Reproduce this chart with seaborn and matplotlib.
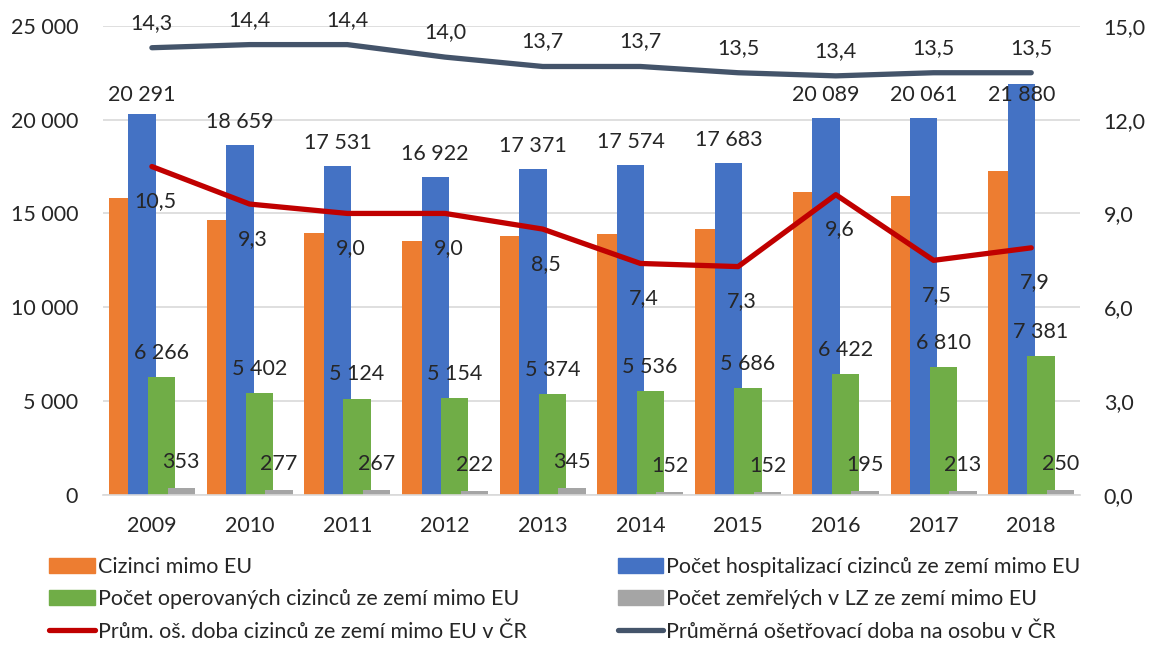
import matplotlib
import numpy as np
import pandas as pd
import seaborn as sns

matplotlib.use("Agg")
import matplotlib.pyplot as plt
from matplotlib.lines import Line2D
from matplotlib.patches import Patch


YEARS = ["2009", "2010", "2011", "2012", "2013", "2014", "2015", "2016", "2017", "2018"]
CIZINCI = [15800, 14650, 13950, 13550, 13800, 13900, 14150, 16150, 15950, 17250]
HOSPITALIZACE = [20291, 18659, 17531, 16922, 17371, 17574, 17683, 20089, 20061, 21880]
OPEROVANI = [6266, 5402, 5124, 5154, 5374, 5536, 5686, 6422, 6810, 7381]
ZEMRELI = [353, 277, 267, 222, 345, 152, 152, 195, 213, 250]
DOBA_CIZINCI = [10.5, 9.3, 9.0, 9.0, 8.5, 7.4, 7.3, 9.6, 7.5, 7.9]
DOBA_CR = [14.3, 14.4, 14.4, 14.0, 13.7, 13.7, 13.5, 13.4, 13.5, 13.5]

SERIES = [
    "Cizinci mimo EU",
    "Počet hospitalizací cizinců ze zemí mimo EU",
    "Počet operovaných cizinců ze zemí mimo EU",
    "Počet zemřelých v LZ ze zemí mimo EU",
]
LINE_NAMES = [
    "Prům. oš. doba cizinců ze zemí mimo EU v ČR",
    "Průměrná ošetřovací doba na osobu v ČR",
]
COLORS = ["#ED7D31", "#4472C4", "#70AD47", "#A5A5A5"]
RED = "#C00000"
DARK = "#44546A"
TEXT = "#262626"
FS = 15.5


def fmt_thousands(v: float) -> str:
    return f"{int(v):,}".replace(",", " ")


def fmt_dec(v: float) -> str:
    return f"{v:.1f}".replace(".", ",")


sns.set_theme(style="white")
plt.rcParams["font.family"] = ["Lato", "DejaVu Sans"]
plt.rcParams["text.color"] = TEXT

df = pd.DataFrame(
    {
        "rok": YEARS * 4,
        "serie": [s for s in SERIES for _ in YEARS],
        "hodnota": CIZINCI + HOSPITALIZACE + OPEROVANI + ZEMRELI,
    }
)

fig = plt.figure(figsize=(11.5, 6.46), dpi=100)
ax = fig.add_axes([0.0896, 0.234, 0.8496, 0.726])

sns.barplot(
    data=df, x="rok", y="hodnota", hue="serie", hue_order=SERIES,
    palette=COLORS, width=0.8, saturation=1, legend=False, ax=ax, errorbar=None,
)

# widen bars so they overlap like the Excel original
bar_w = 0.28
for patch in ax.patches:
    cx = patch.get_x() + patch.get_width() / 2
    patch.set_width(bar_w)
    patch.set_x(cx - bar_w / 2)
    patch.set_linewidth(0)

offsets = [-0.3, -0.1, 0.1, 0.3]
# label offset above the bar (data units) and highest allowed label position
label_series = [(1, HOSPITALIZACE, 1230, 21300), (2, OPEROVANI, 1300, 25000), (3, ZEMRELI, 1380, 25000)]
for k, values, dy, cap in label_series:
    for i, v in enumerate(values):
        ax.text(
            i + offsets[k], min(v + dy, cap), fmt_thousands(v),
            ha="center", va="center", fontsize=FS, color=TEXT, clip_on=False,
        )

ax.set_ylim(0, 25000)
ax.set_xlim(-0.5, 9.5)
ax.set_yticks(range(0, 25001, 5000))
ax.set_yticklabels([fmt_thousands(t) for t in range(0, 25001, 5000)])
ax.yaxis.grid(True, color="#D9D9D9", linewidth=1.2)
ax.set_axisbelow(True)
ax.set_xlabel("")
ax.set_ylabel("")
for side in ["top", "left", "right"]:
    ax.spines[side].set_visible(False)
ax.spines["bottom"].set_color("#D9D9D9")
ax.spines["bottom"].set_linewidth(1.2)
ax.tick_params(axis="x", length=0, pad=15, labelsize=FS, colors=TEXT)
ax.tick_params(axis="y", length=0, pad=18, labelsize=FS, colors=TEXT)

ax2 = ax.twinx()
xs = np.arange(len(YEARS))
sns.lineplot(x=xs, y=DOBA_CIZINCI, ax=ax2, color=RED, linewidth=3.8)
sns.lineplot(x=xs, y=DOBA_CR, ax=ax2, color=DARK, linewidth=3.8)
ax2.set_ylim(0, 15)
ax2.set_yticks(np.arange(0, 15.1, 3))
ax2.set_yticklabels([fmt_dec(t) for t in np.arange(0, 15.1, 3)])
ax2.tick_params(axis="y", length=0, pad=17, labelsize=FS, colors=TEXT)
for side in ["top", "left", "right", "bottom"]:
    ax2.spines[side].set_visible(False)
ax2.grid(False)

for i, v in enumerate(DOBA_CIZINCI):
    ax2.annotate(
        fmt_dec(v), (i, v), xytext=(2.5, -25), textcoords="offset points",
        ha="center", va="center", fontsize=FS, color=TEXT, annotation_clip=False,
    )
for i, v in enumerate(DOBA_CR):
    ax2.annotate(
        fmt_dec(v), (i, v), xytext=(0, 18), textcoords="offset points",
        ha="center", va="center", fontsize=FS, color=TEXT, annotation_clip=False,
    )

left_handles = [
    Patch(color=COLORS[0], label=SERIES[0]),
    Patch(color=COLORS[2], label=SERIES[2]),
    Line2D([], [], color=RED, linewidth=3.8, label=LINE_NAMES[0]),
]
right_handles = [
    Patch(color=COLORS[1], label=SERIES[1]),
    Patch(color=COLORS[3], label=SERIES[3]),
    Line2D([], [], color=DARK, linewidth=3.8, label=LINE_NAMES[1]),
]
legend_kw = dict(
    loc="upper left", frameon=False, fontsize=FS, handlelength=2.1,
    handletextpad=0.15, labelspacing=0.58, borderaxespad=0, borderpad=0,
)
fig.legend(handles=left_handles, bbox_to_anchor=(0.043, 0.138), **legend_kw)
fig.legend(handles=right_handles, bbox_to_anchor=(0.537, 0.138), **legend_kw)

fig.savefig("out.png", dpi=100)
plt.close(fig)
